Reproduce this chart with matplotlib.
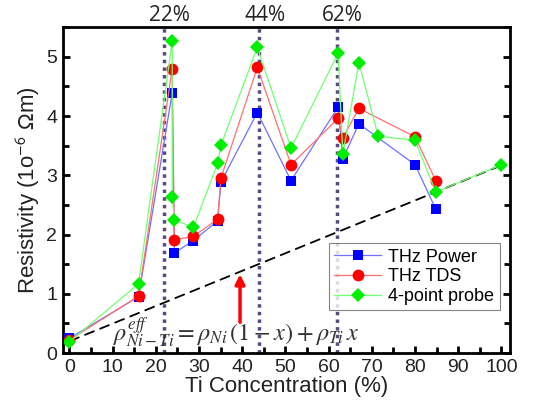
import numpy as np
import matplotlib
matplotlib.use('Agg')
import matplotlib.pyplot as plt
from matplotlib.ticker import MultipleLocator

plt.rcParams['font.family'] = ['Liberation Sans', 'DejaVu Sans']
plt.rcParams['mathtext.fontset'] = 'stix'

# THz power
x_pow = [0, 16, 23.8, 24.3, 28.7, 34.3, 35.1, 43.5, 51.3, 62.2, 63.3, 67, 80, 84.8]
r_pow = [0.25, 0.95, 4.39, 1.69, 1.90, 2.23, 2.89, 4.06, 2.91, 4.15, 3.28, 3.87, 3.18, 2.43]
# THz TDS
x_tds = [0, 16, 23.8, 24.3, 28.7, 34.3, 35.1, 43.5, 51.3, 62.2, 63.3, 67, 80, 84.8]
r_tds = [0.22, 0.96, 4.80, 1.91, 1.97, 2.26, 2.96, 4.82, 3.18, 3.96, 3.63, 4.13, 3.65, 2.91]
# 4-point probe
x_4pp = [0, 16, 23.8, 23.8, 24.3, 28.7, 34.3, 35.1, 43.5, 51.3, 62.2, 63.3, 67, 71.5, 80, 84.8, 99.8]
r_4pp = [0.19, 1.17, 5.26, 2.64, 2.25, 2.12, 3.20, 3.51, 5.16, 3.46, 5.06, 3.36, 4.90, 3.66, 3.59, 2.72, 3.17]

# effective-medium line
rho_ni, rho_ti = 0.2, 3.17
x_fit = np.array([0, 100])
r_fit = rho_ni * (1 - x_fit / 100) + rho_ti * x_fit / 100

marks = [22, 44, 62]
mark_labels = ['22%', '44%', '62%']

fig = plt.figure(figsize=(5.33, 4.12), dpi=100)
ax = fig.add_axes([0.118, 0.143, 0.839, 0.791])

for m in marks:
    ax.axvline(m, color='#5b4a80', lw=2.5, ls=(0, (1, 1.2)), zorder=1)

ax.plot(x_fit, r_fit, 'k--', lw=1.3, dashes=(6, 3), zorder=2)

series = [
    (x_pow, r_pow, '#0000ff', '#7070ff', 's', 7, 'THz Power'),
    (x_tds, r_tds, '#ff0000', '#ff7070', 'o', 8.5, 'THz TDS'),
    (x_4pp, r_4pp, '#00ee00', '#70ff70', 'D', 7, '4-point probe'),
]
for i, (xs, ys, c, lc, mk, ms, lab) in enumerate(series):
    ax.plot(xs, ys, color=lc, lw=0.9, marker=mk, ms=ms, mec=c, mfc=c,
            mew=0, label=lab, zorder=3 + i)

ax.annotate('', xy=(39.5, 1.33), xytext=(39.5, 0.52),
            arrowprops=dict(arrowstyle='-|>', color='red', lw=2.5,
                            mutation_scale=14, shrinkA=0, shrinkB=0))

ax.text(10, 0.36, r'$\rho^{eff}_{Ni-Ti}=\rho_{Ni}\,(1-x)+\rho_{Ti}\,x$',
        fontsize=17.5, color='#333333', va='center', ha='left')

ax.set_xlim(-1.5, 102)
ax.set_ylim(0, 5.5)
ax.xaxis.set_major_locator(MultipleLocator(10))
ax.xaxis.set_minor_locator(MultipleLocator(5))
ax.yaxis.set_major_locator(MultipleLocator(1))
ax.yaxis.set_minor_locator(MultipleLocator(0.5))
ax.tick_params(which='both', direction='in', top=True, right=True, width=2,
               labelsize=14, colors='black')
ax.tick_params(which='major', length=5)
ax.tick_params(which='minor', length=4)
ax.tick_params(axis='both', labelcolor='#222222', pad=4)
for s in ax.spines.values():
    s.set_linewidth(2)

ax.set_xlabel('Ti Concentration (%)', fontsize=16, color='#222222', labelpad=0)
ax.set_ylabel(r'Resistivity (1o$^{\mathsf{-6}}$ $\mathsf{\Omega}$m)', fontsize=16,
              color='#222222', labelpad=3)

top = ax.twiny()
top.set_xlim(ax.get_xlim())
top.set_xticks([m + 1.2 for m in marks])
top.set_xticklabels(mark_labels, family=['Open Sans', 'DejaVu Sans'], fontsize=15, color='#222222')
top.tick_params(length=0, pad=1)

leg = ax.legend(loc='lower right', bbox_to_anchor=(0.985, 0.12), fontsize=13,
                frameon=True, fancybox=False, edgecolor='#666666',
                handlelength=2.6, handletextpad=0.4, borderpad=0.3, labelspacing=0.15,
                borderaxespad=0.2)
leg.get_frame().set_linewidth(0.8)

fig.savefig('out.png', dpi=100)
